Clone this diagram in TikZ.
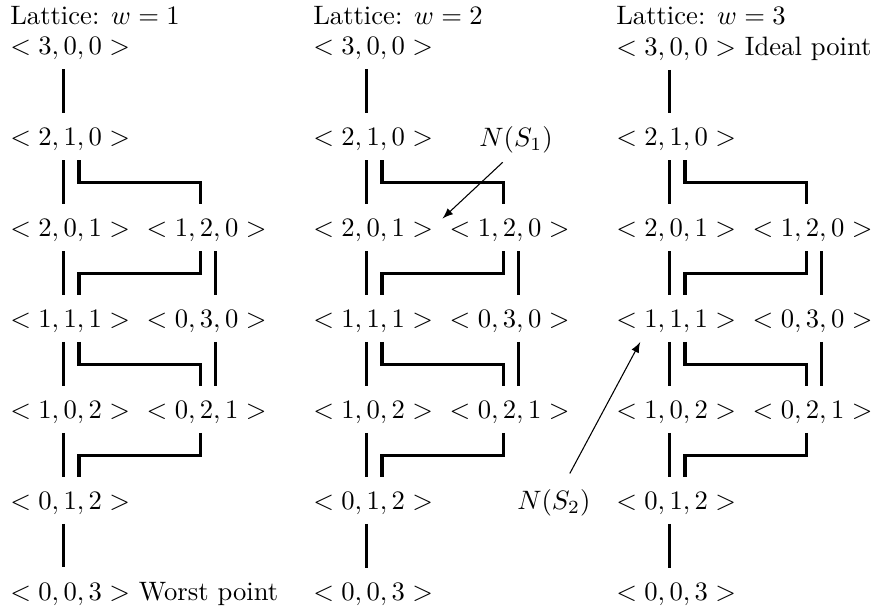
\documentclass[tikz,border=0pt]{standalone}
\usepackage{amsmath}

\tikzset{
  pt/.style={anchor=west},
  link/.style={very thick, shorten >=2.2pt},
}

\begin{document}
\begin{tikzpicture}
\useasboundingbox (-0.012,0.643) rectangle (11.526,-7.398);

\foreach \w/\ntop/\nbot in {1/{}/{~Worst point}, 2/{}/{}, 3/{~Ideal point}/{}} {
\begin{scope}[shift={(\w*4-4,0)}]
\node[pt] (c\w-lab) at (0,0.44) {Lattice: $w=\w$};
\node[pt] (c\w-300) at (0,0) {$<3,0,0>$\ntop};
\node[pt] (c\w-210) at (0,-1.2) {$<2,1,0>$};
\node[pt] (c\w-201) at (0,-2.4) {$<2,0,1>$};
\node[pt] (c\w-120) at (1.8,-2.4) {$<1,2,0>$};
\node[pt] (c\w-111) at (0,-3.6) {$<1,1,1>$};
\node[pt] (c\w-030) at (1.8,-3.6) {$<0,3,0>$};
\node[pt] (c\w-102) at (0,-4.8) {$<1,0,2>$};
\node[pt] (c\w-021) at (1.8,-4.8) {$<0,2,1>$};
\node[pt] (c\w-012) at (0,-6) {$<0,1,2>$};
\node[pt] (c\w-003) at (0,-7.2) {$<0,0,3>$\nbot};

% covering relations
\foreach \a/\b/\s/\t in {300/210/0.83/0.83, 210/201/0.83/0.83, 210/120/1.03/0.83,
    201/111/0.83/0.83, 120/111/0.83/1.03, 120/030/1.03/1.03,
    111/102/0.83/0.83, 111/021/1.03/0.83, 030/021/1.03/1.03,
    102/012/0.83/0.83, 021/012/0.83/1.03, 012/003/0.83/0.83}
  \draw[link] ([xshift=\s cm]c\w-\a.south west) -- ++(0,-0.3) -| ([xshift=\t cm]c\w-\b.north west);
\end{scope}
}

% neighbourhoods
\node (ns1) at (6.8,-1.2) {$N(S_1)$};
\node (ns2) at (7.3,-6) {$N(S_2)$};
\draw[-latex] ([xshift=-5pt]ns1.south) -- ([yshift=4.5pt]c2-201.east);
\draw[-latex, shorten <=3pt] (ns2) -- ([xshift=0.44cm]c3-111.south west);
\end{tikzpicture}
\end{document}
